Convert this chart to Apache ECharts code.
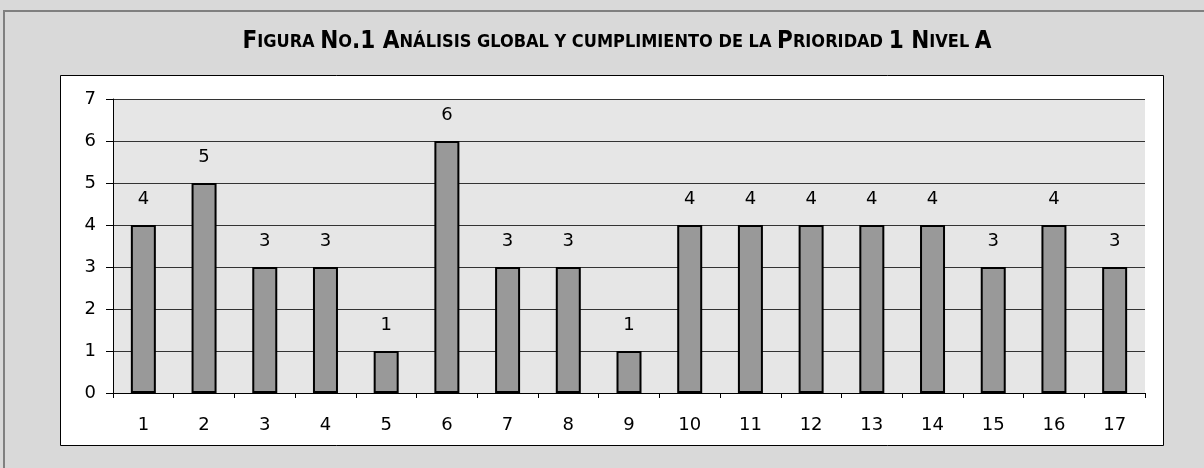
<!DOCTYPE html>
<html>
<head>
<meta charset="utf-8">
<script src="https://cdn.jsdelivr.net/npm/echarts@6/dist/echarts.min.js"></script>
<style>
  html, body { margin: 0; padding: 0; background: #fff; }
  #chart { width: 1204px; height: 468px; }
</style>
</head>
<body>
<div id="chart"></div>
<script>
var titleText = 'Figura No.1 Análisis global y cumplimiento de la Prioridad 1 Nivel A';
var categories = ['1', '2', '3', '4', '5', '6', '7', '8', '9', '10', '11', '12', '13', '14', '15', '16', '17'];
var values = [4, 5, 3, 3, 1, 6, 3, 3, 1, 4, 4, 4, 4, 4, 3, 4, 3];
var yMin = 0;
var yMax = 7;
var yStep = 1;

// small caps: lower case letters drawn as smaller capitals
function smallCaps(str) {
    var out = '';
    var run = '';
    var runType = null;
    for (var i = 0; i < str.length; i++) {
        var ch = str[i];
        var t = (ch !== ch.toUpperCase()) ? 's' : 'b';
        if (ch === ' ') t = runType || 'b';
        if (runType !== null && t !== runType) {
            out += '{' + runType + '|' + run + '}';
            run = '';
        }
        runType = t;
        run += (t === 's') ? ch.toUpperCase() : ch;
    }
    if (run) out += '{' + runType + '|' + run + '}';
    return out;
}

var chart = echarts.init(document.getElementById('chart'));
var font = 'DejaVu Sans';
var option = {
    backgroundColor: '#d9d9d9',
    animation: false,
    graphic: [{
        type: 'rect',
        shape: { x: 4, y: 11, width: 1210, height: 470 },
        style: { fill: 'none', stroke: '#808080', lineWidth: 2 },
        silent: true
    }, {
        type: 'rect',
        shape: { x: 60.5, y: 75.5, width: 1103, height: 370 },
        style: { fill: '#fff', stroke: '#000', lineWidth: 1 },
        silent: true,
        z: -1
    }],
    title: {
        text: smallCaps(titleText),
        left: 612,
        textAlign: 'center',
        top: 25,
        textStyle: {
            rich: {
                b: { fontFamily: 'DejaVu Sans Condensed', fontWeight: 'bold', fontSize: 24, color: '#000' },
                s: { fontFamily: 'DejaVu Sans Condensed', fontWeight: 'bold', fontSize: 18, color: '#000' }
            }
        }
    },
    grid: {
        left: 113,
        right: 59,
        top: 99,
        bottom: 75,
        show: true,
        backgroundColor: '#e6e6e6',
        borderWidth: 0
    },
    xAxis: {
        type: 'category',
        data: categories,
        axisLine: { lineStyle: { color: '#000', width: 1 } },
        axisTick: { show: true, alignWithLabel: false, length: 5, lineStyle: { color: '#000' } },
        axisLabel: { color: '#000', fontFamily: font, fontSize: 18, margin: 23 },
        splitLine: { show: false }
    },
    yAxis: {
        type: 'value',
        min: yMin,
        max: yMax,
        interval: yStep,
        axisLine: { show: true, lineStyle: { color: '#000', width: 1 } },
        axisTick: { show: true, length: 7, lineStyle: { color: '#000' } },
        axisLabel: { color: '#000', fontFamily: font, fontSize: 18, margin: 17 },
        splitLine: { show: true, lineStyle: { color: '#333', width: 1 } }
    },
    series: [{
        type: 'bar',
        data: values,
        barWidth: 25,
        itemStyle: { color: '#999999', borderColor: '#000', borderWidth: 2 },
        label: {
            show: true,
            position: 'top',
            distance: 17,
            color: '#000',
            fontFamily: font,
            fontSize: 18
        }
    }]
};
chart.setOption(option);
</script>
</body>
</html>
